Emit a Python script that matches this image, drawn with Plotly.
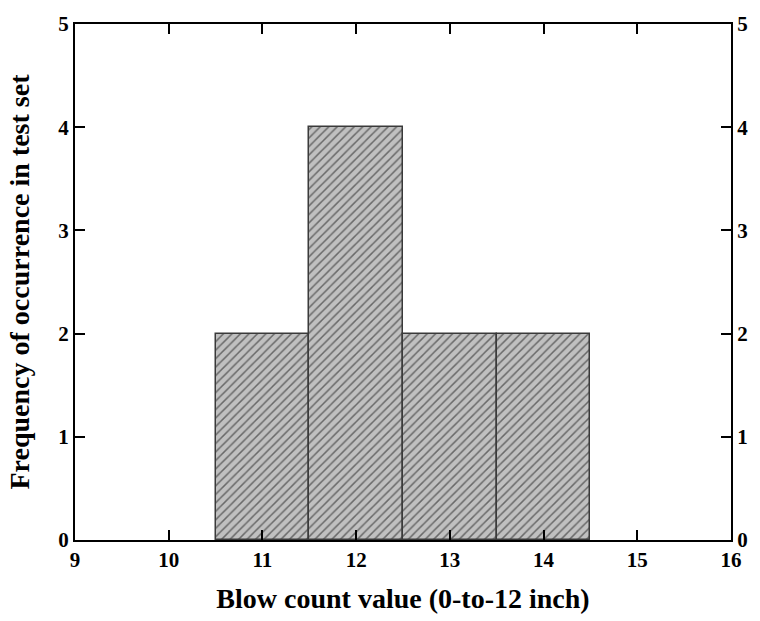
import plotly.graph_objects as go

# Histogram of blow counts
bin_centers = [11, 12, 13, 14]
frequencies = [2, 4, 2, 2]
x_ticks = [9, 10, 11, 12, 13, 14, 15, 16]
y_ticks = [0, 1, 2, 3, 4, 5]

font_family = "Liberation Serif, Times New Roman, serif"

fig = go.Figure()
fig.add_trace(go.Bar(
    x=bin_centers,
    y=frequencies,
    width=1.0,
    marker=dict(
        color="#c0c0c0",
        line=dict(color="#3a3a3a", width=1.5),
        pattern=dict(shape="/", fgcolor="#111111", bgcolor="#c0c0c0",
                     size=6, solidity=0.25, fillmode="overlay"),
    ),
    showlegend=False,
    hoverinfo="x+y",
))
# Invisible trace carrying the right-hand axis
fig.add_trace(go.Scatter(x=[9], y=[0], yaxis="y2", mode="markers",
                         marker=dict(opacity=0), showlegend=False,
                         hoverinfo="skip"))

axis_common = dict(
    showgrid=False, zeroline=False,
    showline=True, linecolor="black", linewidth=2,
    ticks="inside", ticklen=10, tickwidth=1.5, tickcolor="black",
    tickfont=dict(family=font_family, size=21, color="black", weight="bold"),
)
title_font = dict(family=font_family, size=28, color="black", weight="bold")

fig.update_layout(
    width=760, height=621,
    margin=dict(l=75, r=26, t=20, b=80),
    plot_bgcolor="white", paper_bgcolor="white",
    bargap=0,
    xaxis=dict(
        range=[9, 16], tickvals=x_ticks, mirror="ticks",
        title=dict(text="Blow count value (0-to-12 inch)", standoff=17,
                   font=title_font),
        **axis_common,
    ),
    yaxis=dict(
        range=[0, 5], tickvals=y_ticks,
        title=dict(text="Frequency of occurrence in test set", standoff=20,
                   font=title_font),
        **axis_common,
    ),
    yaxis2=dict(
        range=[0, 5], tickvals=y_ticks, overlaying="y", side="right",
        **axis_common,
    ),
)

fig.write_html("out.html")
